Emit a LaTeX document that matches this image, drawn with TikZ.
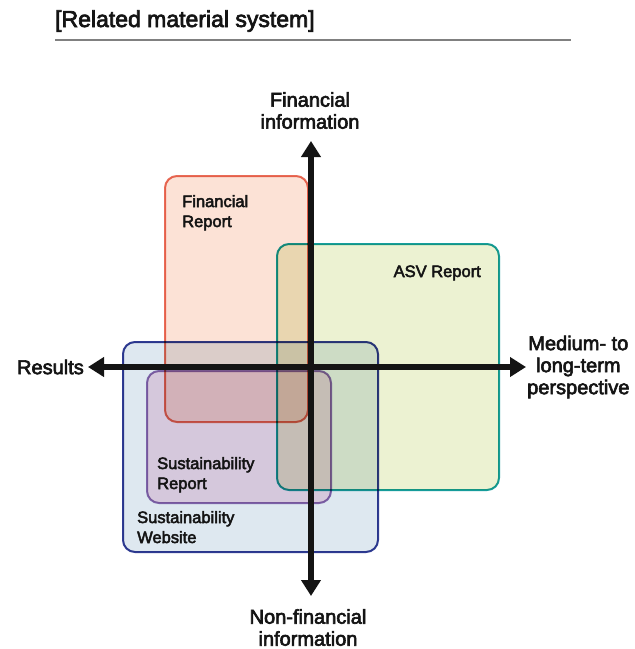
\documentclass[tikz,border=0pt]{standalone}
\usepackage{fontspec}
\setmainfont{Liberation Sans}
\newfontfamily\medfont[BoldFont={Liberation Sans}, BoldFeatures={FakeBold=3}]{Liberation Sans}
\usetikzlibrary{arrows.meta}

\definecolor{frstroke}{RGB}{232,108,88}
\definecolor{frfill}{RGB}{252,226,214}
\definecolor{asvstroke}{RGB}{22,158,158}
\definecolor{asvfill}{RGB}{236,242,210}
\definecolor{webstroke}{RGB}{48,60,148}
\definecolor{webfill}{RGB}{222,232,240}
\definecolor{srstroke}{RGB}{142,110,180}
\definecolor{srfill}{RGB}{245,220,234}
\definecolor{ink}{RGB}{20,20,20}
\definecolor{rulegray}{RGB}{128,128,128}

\tikzset{
  region/.style={rounded corners=12pt, line width=2pt},
  boxlabel/.style={font=\medfont\bfseries\fontsize{16.5}{20}\selectfont, text=ink, inner sep=0pt, align=left},
  axislabel/.style={font=\medfont\bfseries\fontsize{20}{22}\selectfont, text=ink, inner sep=0pt, align=center},
  axis/.style={line width=6pt, ink, {Triangle[length=16pt,width=19pt]}-{Triangle[length=16pt,width=19pt]}}
}

\begin{document}
\begin{tikzpicture}[x=1pt,y=-1pt]
  \useasboundingbox (0,0) rectangle (635,649);
  \fill[white] (0,0) rectangle (635,649);

  % heading and rule
  \node[font=\medfont\bfseries\fontsize{23}{26}\selectfont, text=ink, anchor=base west, inner sep=0pt] (title) at (55,27) {[Related material system]};
  \draw[rulegray, line width=2pt] (55,40) -- (571,40);

  % overlapping report regions, blended multiplicatively
  \begin{scope}[blend group=multiply]
    \draw[region, draw=webstroke, fill=webfill] (123,342) rectangle (378,552);
    \draw[region, draw=srstroke, fill=srfill] (147,371) rectangle (331,503);
    \draw[region, draw=frstroke, fill=frfill] (165,176) rectangle (308,422);
    \draw[region, draw=asvstroke, fill=asvfill] (277,244) rectangle (499,490);
  \end{scope}

  % region labels (base anchor sits on the last line)
  \node[boxlabel, anchor=base west] (frlabel) at (182,227) {Financial\\Report};
  \node[boxlabel, anchor=base east] (asvlabel) at (481,277) {ASV Report};
  \node[boxlabel, anchor=base west] (srlabel) at (157,489) {Sustainability\\Report};
  \node[boxlabel, anchor=base west] (weblabel) at (137,543) {Sustainability\\Website};

  % axes
  \coordinate (up) at (311,141);
  \coordinate (down) at (311,596);
  \coordinate (west) at (88,367);
  \coordinate (east) at (526,367);
  \draw[axis] (west) -- (east);
  \draw[axis] (down) -- (up);

  % axis labels
  \node[axislabel, anchor=north] (fin) at (310,92) {Financial\\information};
  \node[axislabel, anchor=north] (nonfin) at (308,609) {Non-financial\\information};
  \node[axislabel, anchor=east] (res) at (84,367) {Results};
  \node[axislabel, anchor=west] (mid) at (527,367) {Medium- to\\long-term\\perspective};
\end{tikzpicture}
\end{document}
